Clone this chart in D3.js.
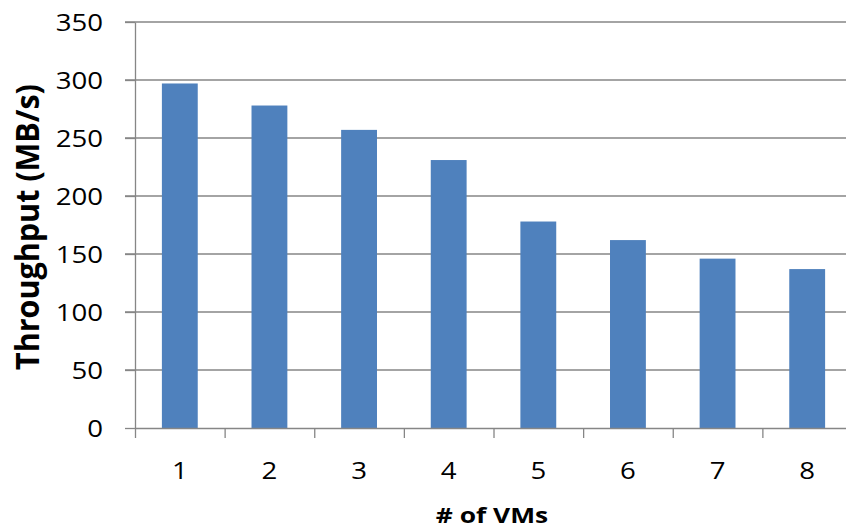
<!DOCTYPE html>
<html>
<head>
<meta charset="utf-8">
<script src="https://cdn.jsdelivr.net/npm/d3@7"></script>
<style>
  body { margin: 0; background: #fff; }
  svg text { font-family: "Open Sans", sans-serif; fill: #000; }
</style>
</head>
<body>
<div id="chart"></div>
<script>
"use strict";
// data
const vms = ["1", "2", "3", "4", "5", "6", "7", "8"];
const throughput = [297, 278, 257, 231, 178, 162, 146, 137];
const yTicks = [0, 50, 100, 150, 200, 250, 300, 350];

const width = 846, height = 528;
const plot = { left: 135, right: 852, top: 22, bottom: 428 };
const sx = 1.2; // reference text is stretched sideways
const axisColor = "#868686";

const svg = d3.select("#chart").append("svg")
    .attr("width", width)
    .attr("height", height);

const x = d3.scaleBand()
    .domain(vms)
    .range([plot.left, plot.right])
    .paddingInner(0.6)
    .paddingOuter(0.3);

// category boundaries for the tick marks
const xEdges = d3.scaleLinear().domain([0, vms.length]).range([plot.left, plot.right]);

const y = d3.scaleLinear()
    .domain([0, 350])
    .range([plot.bottom, plot.top]);

// gridlines
svg.append("g")
    .selectAll("line")
    .data(yTicks.filter(d => d > 0))
    .enter()
    .append("line")
    .attr("x1", plot.left - 10)
    .attr("x2", plot.right)
    .attr("y1", d => y(d))
    .attr("y2", d => y(d))
    .style("stroke", axisColor)
    .style("stroke-width", 1.3);

// bars
svg.append("g")
    .selectAll("rect")
    .data(throughput)
    .enter()
    .append("rect")
    .attr("x", (d, i) => x(vms[i]))
    .attr("y", d => y(d))
    .attr("width", x.bandwidth())
    .attr("height", d => y(0) - y(d))
    .style("fill", "#4F81BD");

// Y axis
const yAxis = svg.append("g")
    .attr("transform", "translate(" + plot.left + ",0)")
    .call(d3.axisLeft(y).tickValues(yTicks).tickSize(10).tickSizeOuter(0).tickPadding(0).tickFormat(""));
yAxis.selectAll("path, line").style("stroke", axisColor).style("stroke-width", 1.3);

svg.append("g")
    .selectAll("text")
    .data(yTicks)
    .enter()
    .append("text")
    .attr("transform", d => "translate(103," + (y(d) + 8.5) + ") scale(" + sx + ",1)")
    .style("text-anchor", "end")
    .style("font-size", "23px")
    .text(d => d);

// X axis
const xAxis = svg.append("g")
    .attr("transform", "translate(0," + plot.bottom + ")")
    .call(d3.axisBottom(xEdges).tickValues(d3.range(vms.length + 1)).tickSize(10).tickSizeOuter(0).tickFormat(""));
xAxis.selectAll("path, line").style("stroke", axisColor).style("stroke-width", 1.3);

svg.append("g")
    .selectAll("text")
    .data(vms)
    .enter()
    .append("text")
    .attr("transform", d => "translate(" + (x(d) + x.bandwidth() / 2) + ",479) scale(" + sx + ",1)")
    .style("text-anchor", "middle")
    .style("font-size", "23px")
    .text(d => d);

// axis titles
svg.append("text")
    .attr("transform", "translate(492,523) scale(" + sx + ",1)")
    .style("text-anchor", "middle")
    .style("font-size", "22px")
    .style("font-weight", "bold")
    .text("# of VMs");

svg.append("text")
    .attr("transform", "translate(39,227) scale(1.05,1) rotate(-90)")
    .style("text-anchor", "middle")
    .style("font-size", "30.5px")
    .style("font-weight", "bold")
    .text("Throughput (MB/s)");
</script>
</body>
</html>
